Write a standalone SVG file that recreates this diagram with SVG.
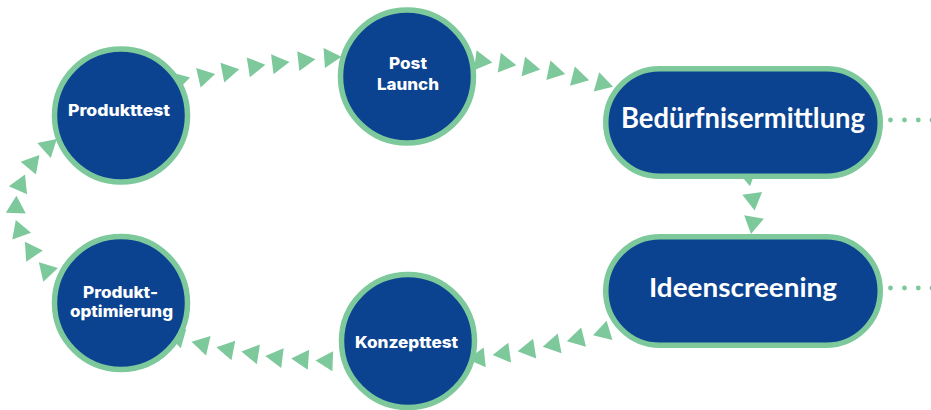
<svg xmlns="http://www.w3.org/2000/svg" xmlns:xlink="http://www.w3.org/1999/xlink" width="931" height="410" viewBox="0 0 931 410">
  <style>
    .tri { fill: #7DC99B; }
    .dot { fill: #7DC99B; }
    .node { fill: #0B4390; stroke: #7DC99B; stroke-width: 5.5; }
    .ct { fill: #FFFFFF; font-family: Inter, "Open Sans", "Liberation Sans", sans-serif; font-weight: 800; font-size: 16px; text-anchor: middle; }
    .pt { fill: #FFFFFF; font-family: Lato, "Noto Sans", "Liberation Sans", sans-serif; font-weight: 700; text-anchor: middle; }
  </style>
  <defs>
    <polygon id="t" class="tri" points="11.5,0 -5.75,-10 -5.75,10"/>
  </defs>
  <rect width="931" height="410" fill="#FFFFFF"/>
  <g id="connectors">
    <g id="c-produkttest-postlaunch">
      <use xlink:href="#t" href="#t" transform="translate(179,80.5) rotate(-15)"/>
      <use xlink:href="#t" href="#t" transform="translate(204,76.5) rotate(-13)"/>
      <use xlink:href="#t" href="#t" transform="translate(228,71.5) rotate(-11)"/>
      <use xlink:href="#t" href="#t" transform="translate(254,66.5) rotate(-9)"/>
      <use xlink:href="#t" href="#t" transform="translate(278,63.5) rotate(-7)"/>
      <use xlink:href="#t" href="#t" transform="translate(304,60.5) rotate(-6)"/>
      <use xlink:href="#t" href="#t" transform="translate(330,57.5) rotate(-4)"/>
    </g>
    <g id="c-postlaunch-beduerfnis">
      <use xlink:href="#t" href="#t" transform="translate(481,61) rotate(7)"/>
      <use xlink:href="#t" href="#t" transform="translate(505,63.5) rotate(9)"/>
      <use xlink:href="#t" href="#t" transform="translate(529,67.5) rotate(10)"/>
      <use xlink:href="#t" href="#t" transform="translate(554,71.5) rotate(12)"/>
      <use xlink:href="#t" href="#t" transform="translate(578,77.5) rotate(14)"/>
      <use xlink:href="#t" href="#t" transform="translate(602,83.5) rotate(16)"/>
    </g>
    <g id="c-beduerfnis-ideen">
      <use xlink:href="#t" href="#t" transform="translate(748,175) rotate(80)"/>
      <use xlink:href="#t" href="#t" transform="translate(753,199) rotate(82)"/>
      <use xlink:href="#t" href="#t" transform="translate(753,222.6) rotate(100)"/>
    </g>
    <g id="c-ideen-konzept">
      <use xlink:href="#t" href="#t" transform="translate(604,332) rotate(163)"/>
      <use xlink:href="#t" href="#t" transform="translate(578,338.5) rotate(166)"/>
      <use xlink:href="#t" href="#t" transform="translate(554,344.5) rotate(169)"/>
      <use xlink:href="#t" href="#t" transform="translate(529,349.5) rotate(171)"/>
      <use xlink:href="#t" href="#t" transform="translate(504,353.5) rotate(172)"/>
      <use xlink:href="#t" href="#t" transform="translate(479,358) rotate(174)"/>
    </g>
    <g id="c-konzept-optimierung">
      <use xlink:href="#t" href="#t" transform="translate(327,361) rotate(182)"/>
      <use xlink:href="#t" href="#t" transform="translate(302.7,359.4) rotate(184)"/>
      <use xlink:href="#t" href="#t" transform="translate(276.7,357.4) rotate(187)"/>
      <use xlink:href="#t" href="#t" transform="translate(252.7,353.4) rotate(189)"/>
      <use xlink:href="#t" href="#t" transform="translate(227.7,349.4) rotate(191)"/>
      <use xlink:href="#t" href="#t" transform="translate(202.7,344.4) rotate(193)"/>
      <use xlink:href="#t" href="#t" transform="translate(178,337) rotate(196)"/>
    </g>
    <g id="c-optimierung-produkttest">
      <use xlink:href="#t" href="#t" transform="translate(46.7,270.7) rotate(-133)"/>
      <use xlink:href="#t" href="#t" transform="translate(31.3,251.3) rotate(-124)"/>
      <use xlink:href="#t" href="#t" transform="translate(19.7,230.7) rotate(-110)"/>
      <use xlink:href="#t" href="#t" transform="translate(16,207.3) rotate(-88)"/>
      <use xlink:href="#t" href="#t" transform="translate(20.3,185) rotate(-66)"/>
      <use xlink:href="#t" href="#t" transform="translate(32,163.7) rotate(-50)"/>
      <use xlink:href="#t" href="#t" transform="translate(48.3,146.7) rotate(-42)"/>
    </g>
    <g id="c-beduerfnis-out">
      <circle class="dot" cx="890.5" cy="120" r="2.4"/>
      <circle class="dot" cx="904.5" cy="120" r="2.4"/>
      <circle class="dot" cx="918.3" cy="120" r="2.4"/>
      <circle class="dot" cx="932" cy="120" r="2.4"/>
    </g>
    <g id="c-ideen-out">
      <circle class="dot" cx="890.5" cy="288" r="2.4"/>
      <circle class="dot" cx="904.5" cy="288" r="2.4"/>
      <circle class="dot" cx="918.3" cy="288" r="2.4"/>
      <circle class="dot" cx="932" cy="288" r="2.4"/>
    </g>
  </g>
  <g id="node-produkttest">
    <circle class="node" cx="121" cy="115.5" r="66.5"/>
    <text class="ct" x="119" y="116" textLength="102" lengthAdjust="spacingAndGlyphs">Produkttest</text>
  </g>
  <g id="node-postlaunch">
    <circle class="node" cx="407" cy="76.5" r="66.5"/>
    <text class="ct" x="408" y="69" textLength="38" lengthAdjust="spacingAndGlyphs">Post</text>
    <text class="ct" x="408" y="90" textLength="62" lengthAdjust="spacingAndGlyphs">Launch</text>
  </g>
  <g id="node-beduerfnisermittlung">
    <rect class="node" x="605.75" y="68.75" width="274.5" height="107.5" rx="53.75" ry="53.75"/>
    <text class="pt" x="743" y="127.5" font-size="28" textLength="244" lengthAdjust="spacingAndGlyphs">Bedürfnisermittlung</text>
  </g>
  <g id="node-ideenscreening">
    <rect class="node" x="605.75" y="236.75" width="274.5" height="108.5" rx="54.25" ry="54.25"/>
    <text class="pt" x="743" y="297" font-size="27" textLength="188" lengthAdjust="spacingAndGlyphs">Ideenscreening</text>
  </g>
  <g id="node-produktoptimierung">
    <circle class="node" cx="121" cy="303" r="66.5"/>
    <text class="ct" x="120.5" y="298" textLength="75" lengthAdjust="spacingAndGlyphs">Produkt-</text>
    <text class="ct" x="121.5" y="317" textLength="103" lengthAdjust="spacingAndGlyphs">optimierung</text>
  </g>
  <g id="node-konzepttest">
    <circle class="node" cx="408" cy="341" r="66.5"/>
    <text class="ct" x="406.5" y="348" textLength="103" lengthAdjust="spacingAndGlyphs">Konzepttest</text>
  </g>
</svg>
